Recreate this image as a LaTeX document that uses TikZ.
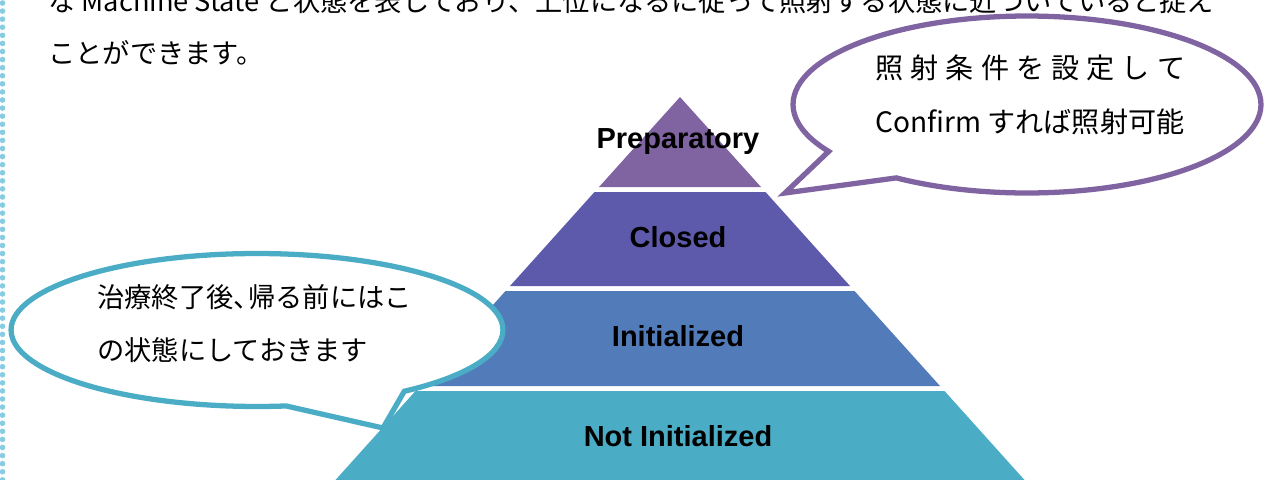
\documentclass[tikz,border=0pt]{standalone}
\usepackage{fontspec}
\setmainfont{Noto Sans CJK JP}
\newfontfamily\lblfont{Liberation Sans}
\usepackage{tikz}
\usetikzlibrary{shapes.callouts}
\definecolor{prepcol}{HTML}{8064A2}
\definecolor{closedcol}{HTML}{5E5AAB}
\definecolor{initcol}{HTML}{527BBA}
\definecolor{notinitcol}{HTML}{4BACC6}
\definecolor{dotcol}{HTML}{87CCE3}
\tikzset{
  layerlbl/.style={font=\lblfont\bfseries\fontsize{16.5}{20}\selectfont, text=black,
                   inner sep=0pt, anchor=base},
  bulle/.style={ellipse callout, draw=#1, fill=white, line width=3pt, inner sep=0pt},
  jptxt/.style={font=\fontsize{15.5}{30.5}\selectfont, align=left, inner sep=0pt, anchor=west},
}

\begin{document}
\begin{tikzpicture}[x=0.02cm, y=-0.02cm]
  \useasboundingbox (0,0) rectangle (1265,480);
  \clip (0,0) rectangle (1265,480);
  % dotted page margin
  \draw[dotcol, line width=3.2pt, dash pattern=on 0pt off 4.6pt, line cap=round] (2.5,3) -- (2.5,480);
  % running text of the page
  \node[jptxt, font=\fontsize{15.5}{29.5}\selectfont] (para) at (48,27)
    {な Machine State と状態を表しており、上位になるに従って照射する状態に近づいていると捉え\\ことができます。};
  % pyramid
  \fill[prepcol] (680,97) -- (761,187) -- (599,187) -- cycle;
  \fill[closedcol] (594.5,192) -- (765.5,192) -- (850,286) -- (510,286) -- cycle;
  \fill[initcol] (505.5,291) -- (854.5,291) -- (940,386) -- (420,386) -- cycle;
  \fill[notinitcol] (415.5,391) -- (944.5,391) -- (1024.5,480) -- (335.5,480) -- cycle;
  \node[layerlbl] (prep) at (678,148) {Preparatory};
  \node[layerlbl] (closed) at (678,247) {Closed};
  \node[layerlbl] (init) at (678,346) {Initialized};
  \node[layerlbl] (notinit) at (678,446) {Not Initialized};
  % callouts
  \coordinate (tipR) at (785,193);
  \coordinate (tipL) at (383,428);
  \node[bulle=prepcol, minimum width=9.36cm, minimum height=3.54cm,
        callout absolute pointer={(tipR)}, callout pointer arc=24] (cbR) at (1027,104.5) {};
  \node[bulle=notinitcol, minimum width=9.84cm, minimum height=3.06cm,
        callout absolute pointer={(tipL)}, callout pointer arc=30] (cbL) at (257,330) {};
  \node[jptxt, font=\fontsize{16}{30.5}\selectfont] (txtR) at (875,95)
    {\makebox[6.2cm][s]{照\hfill 射\hfill 条\hfill 件\hfill を\hfill 設\hfill 定\hfill し\hfill て}\\Confirm すれば照射可能};
  \node[jptxt] (txtL) at (97,323.5) {治療終了後、\kern-0.45em 帰る前にはこ\\の状態にしておきます};
\end{tikzpicture}
\end{document}
